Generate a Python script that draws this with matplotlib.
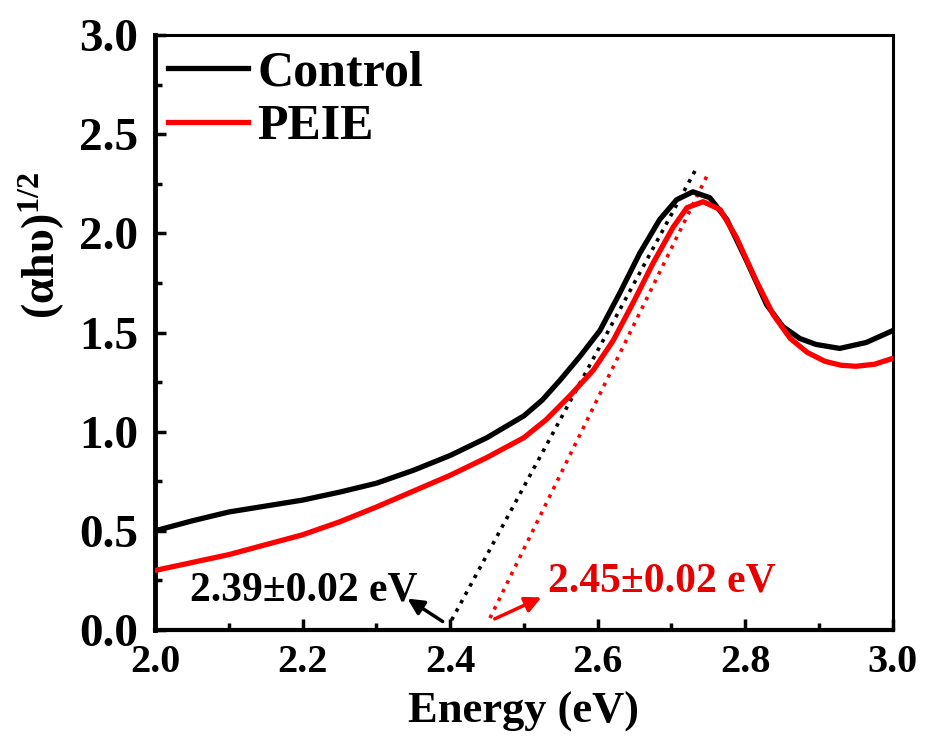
import numpy as np
import matplotlib.pyplot as plt
from matplotlib.ticker import MultipleLocator

# Datos
energy_control = [2.00, 2.05, 2.10, 2.15, 2.20, 2.25, 2.30, 2.35, 2.40, 2.45, 2.50, 2.525,
                  2.549, 2.576, 2.603, 2.630, 2.657, 2.684, 2.707, 2.729, 2.752, 2.775,
                  2.802, 2.829, 2.851, 2.874, 2.896, 2.928, 2.964, 3.00]
ahv_control = [0.50, 0.55, 0.595, 0.625, 0.655, 0.695, 0.74, 0.805, 0.88, 0.97, 1.08, 1.16,
               1.26, 1.38, 1.51, 1.70, 1.90, 2.07, 2.17, 2.21, 2.18, 2.07,
               1.86, 1.64, 1.53, 1.47, 1.44, 1.42, 1.45, 1.51]

energy_peie = [2.00, 2.05, 2.10, 2.15, 2.20, 2.25, 2.30, 2.35, 2.40, 2.45, 2.50, 2.53,
               2.562, 2.594, 2.621, 2.648, 2.675, 2.702, 2.721, 2.743, 2.766, 2.788,
               2.815, 2.838, 2.861, 2.884, 2.908, 2.930, 2.950, 2.975, 3.00]
ahv_peie = [0.30, 0.34, 0.38, 0.43, 0.48, 0.545, 0.62, 0.70, 0.78, 0.87, 0.97, 1.06,
            1.18, 1.31, 1.46, 1.65, 1.85, 2.03, 2.13, 2.16, 2.12, 1.98,
            1.76, 1.59, 1.47, 1.40, 1.355, 1.335, 1.33, 1.34, 1.37]

# Rectas tangentes (extrapolación)
tangent_control_x = [2.402, 2.734]
tangent_control_y = [0.05, 2.33]
tangent_peie_x = [2.454, 2.748]
tangent_peie_y = [0.06, 2.29]

gap_control = '2.39±0.02 eV'
gap_peie = '2.45±0.02 eV'

plt.rcParams['font.family'] = ['Liberation Serif', 'DejaVu Serif']
plt.rcParams['font.weight'] = 'bold'
plt.rcParams['mathtext.fontset'] = 'custom'
plt.rcParams['mathtext.rm'] = 'Liberation Serif:bold'
plt.rcParams['mathtext.bf'] = 'Liberation Serif:bold'
plt.rcParams['mathtext.it'] = 'Liberation Serif:bold'
red = '#ff0000'

fig = plt.figure(figsize=(9.31, 7.48), dpi=100)
ax = fig.add_axes([0.1665, 0.1578, 0.7925, 0.7952])

ax.plot(energy_control, ahv_control, color='black', lw=3.8, label='Control', zorder=3)
ax.plot(energy_peie, ahv_peie, color=red, lw=3.8, label='PEIE', zorder=3)
ax.plot(tangent_control_x, tangent_control_y, color='black', ls=':', lw=2.6)
ax.plot(tangent_peie_x, tangent_peie_y, color=red, ls=':', lw=2.6)

# Flechas y textos del gap
ax.annotate('', xy=(2.339, 0.166), xytext=(2.393, 0.035),
            arrowprops=dict(arrowstyle='-|>', color='black', lw=2.5, mutation_scale=24))
ax.annotate('', xy=(2.527, 0.17), xytext=(2.457, 0.05),
            arrowprops=dict(arrowstyle='-|>', color=red, lw=2.5, mutation_scale=24))
ax.text(2.047, 0.15, gap_control, fontsize=30, fontweight='bold', color='black')
ax.text(2.532, 0.195, gap_peie, fontsize=30, fontweight='bold', color='#e60000')

ax.set_xlim(2.0, 3.0)
ax.set_ylim(0.0, 3.0)
ax.xaxis.set_major_locator(MultipleLocator(0.2))
ax.xaxis.set_minor_locator(MultipleLocator(0.1))
ax.yaxis.set_major_locator(MultipleLocator(0.5))
ax.yaxis.set_minor_locator(MultipleLocator(0.25))
ax.xaxis.set_major_formatter(plt.FormatStrFormatter('%.1f'))
ax.yaxis.set_major_formatter(plt.FormatStrFormatter('%.1f'))
ax.tick_params(which='both', direction='in', top=False, right=False, width=2.5)
ax.tick_params(which='major', length=8, pad=8)
ax.tick_params(which='minor', length=5)
ax.tick_params(axis='x', which='major', labelsize=29, pad=10)
ax.tick_params(axis='y', which='major', labelsize=34, pad=12)
for lab in ax.get_xticklabels() + ax.get_yticklabels():
    lab.set_fontweight('bold')

ax.spines['left'].set_linewidth(3.5)
ax.spines['bottom'].set_linewidth(3.0)
ax.spines['top'].set_linewidth(2.2)
ax.spines['right'].set_linewidth(2.2)

ax.set_xlabel('Energy (eV)', fontsize=32, fontweight='bold', labelpad=8)
ax.set_ylabel(r'(αhυ)$^{\mathbf{1/2}}$', fontsize=33, fontweight='bold')
ax.yaxis.set_label_coords(-0.119, 0.647)

ax.legend(loc='upper left', bbox_to_anchor=(0.0, 0.995), frameon=False,
          prop={'size': 36, 'weight': 'bold'}, handlelength=1.6, handletextpad=0.2,
          labelspacing=0.15, borderaxespad=0.15, borderpad=0.1)

fig.savefig('out.png', dpi=100)
